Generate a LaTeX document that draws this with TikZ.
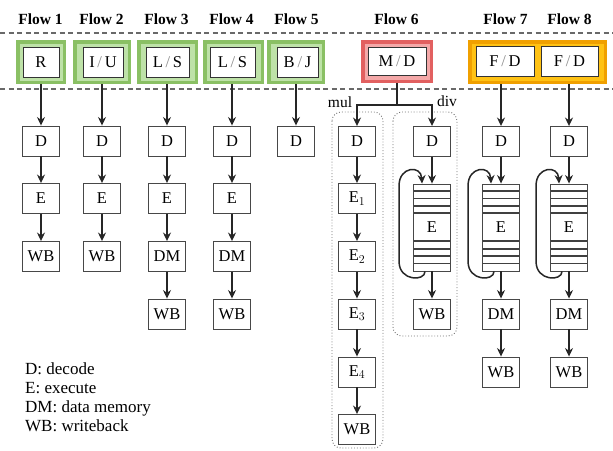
\documentclass[tikz,border=0pt]{standalone}
\usepackage{fontspec}
\setmainfont{Liberation Serif}
\usetikzlibrary{arrows.meta,calc}
\definecolor{gOut}{RGB}{138,192,100}
\definecolor{gIn}{RGB}{190,226,168}
\definecolor{rOut}{RGB}{226,96,96}
\definecolor{rIn}{RGB}{244,168,168}
\definecolor{oOut}{RGB}{240,160,0}
\definecolor{oIn}{RGB}{255,194,20}
\definecolor{dashgray}{RGB}{105,105,105}
\newcommand\gslash{{\color{black!45}/}}
\begin{document}
\begin{tikzpicture}[x=1pt,y=-1pt,
  box/.style={draw=black!72, line width=0.9pt, fill=white, minimum width=37pt, minimum height=30pt, inner sep=0pt, font=\fontsize{16.5}{18}\selectfont},
  hbox/.style={box, draw=black!80, minimum height=30pt},
  glow/.style n args={2}{fill=#1, draw=none, inner sep=0pt,
    path picture={\fill[#2] ($(path picture bounding box.south west)+(3.5pt,3.5pt)$) rectangle ($(path picture bounding box.north east)-(3.5pt,3.5pt)$);}},
  stripebox/.style={box, minimum height=87pt},
  hdr/.style={font=\fontsize{15.5}{18}\selectfont\bfseries},
  lbl/.style={font=\fontsize{15.5}{18}\selectfont},
  arr/.style={-{Stealth[length=8.5pt,width=8pt]}, line width=1.5pt, black!85},
  ln/.style={line width=1.5pt, black!85},
  stripe/.style={line width=1.8pt, black!75},
  dashline/.style={dashgray, line width=1.8pt, dash pattern=on 5pt off 3.5pt},
  region/.style={draw=black!55, dotted, line width=0.9pt, rounded corners=9pt}
]
\useasboundingbox (0,0) rectangle (613,450);

% headers
\node[hdr] (h1) at (40.5,19) {Flow 1};
\node[hdr] (h2) at (101.5,19) {Flow 2};
\node[hdr] (h3) at (166.5,19) {Flow 3};
\node[hdr] (h4) at (231.5,19) {Flow 4};
\node[hdr] (h5) at (296.5,19) {Flow 5};
\node[hdr] (h6) at (396.5,19) {Flow 6};
\node[hdr] (h7) at (505.5,19) {Flow 7};
\node[hdr] (h8) at (569.5,19) {Flow 8};

% dashed separators
\draw[dashline] (0,33) -- (613,33);
\draw[dashline] (0,89) -- (613,89);

% coloured header boxes
\node[glow={gOut}{gIn}, minimum width=50pt, minimum height=44pt] (o1) at (41,62) {};
\node[glow={gOut}{gIn}, minimum width=58pt, minimum height=44pt] (o2) at (102,62) {};
\node[glow={gOut}{gIn}, minimum width=61pt, minimum height=44pt] (o3) at (167.5,62) {};
\node[glow={gOut}{gIn}, minimum width=61pt, minimum height=44pt] (o4) at (233.5,62) {};
\node[glow={gOut}{gIn}, minimum width=58pt, minimum height=44pt] (o5) at (296,62) {};
\node[glow={rOut}{rIn}, minimum width=72pt, minimum height=43pt] (o6) at (397,61.5) {};
\node[glow={oOut}{oIn}, minimum width=139pt, minimum height=44pt] (o78) at (537.5,62) {};

\node[hbox, minimum width=36pt] (t1) at (41,62) {R};
\node[hbox, minimum width=40pt] (t2) at (103,62) {I\,\gslash\,U};
\node[hbox, minimum width=43pt] (t3) at (167.5,62) {L\,\gslash\,S};
\node[hbox, minimum width=45pt] (t4) at (232.5,62) {L\,\gslash\,S};
\node[hbox, minimum width=41pt] (t5) at (297.5,62) {B\,\gslash\,J};
\node[hbox, minimum width=58pt, minimum height=28pt] (t6) at (397,61) {M\,\gslash\,D};
\node[hbox, minimum width=58pt] (t7) at (505,61.5) {F\,\gslash\,D};
\node[hbox, minimum width=57pt] (t8) at (569.5,61.5) {F\,\gslash\,D};

% Flow 1
\node[box] (d1) at (41,141) {D};
\node[box] (e1) at (41,198.5) {E};
\node[box] (w1) at (41,256.5) {WB};
% Flow 2
\node[box] (d2) at (102,141) {D};
\node[box] (e2) at (102,198.5) {E};
\node[box] (w2) at (102,256.5) {WB};
% Flow 3
\node[box] (d3) at (167,141) {D};
\node[box] (e3) at (167,198.5) {E};
\node[box] (m3) at (167,256.5) {DM};
\node[box] (w3) at (167,314) {WB};
% Flow 4
\node[box] (d4) at (232,141) {D};
\node[box] (e4) at (232,198.5) {E};
\node[box] (m4) at (232,256.5) {DM};
\node[box] (w4) at (232,314) {WB};
% Flow 5
\node[box] (d5) at (296,141) {D};

% Flow 6 regions
\draw[region] (332,112) rectangle (383,448);
\draw[region] (393,112) rectangle (457,336);
\node[lbl] (lmul) at (340,102) {mul};
\node[lbl] (ldiv) at (447,101) {div};

% Flow 6 mul
\node[box] (dm) at (357,141.5) {D};
\node[box] (em1) at (357,198.5) {E$_1$};
\node[box] (em2) at (357,256.5) {E$_2$};
\node[box] (em3) at (357,314) {E$_3$};
\node[box] (em4) at (357,372) {E$_4$};
\node[box] (wm) at (357,429.5) {WB};
% Flow 6 div
\node[box] (dd) at (432,141.5) {D};
\node[stripebox] (ed) at (432,227.5) {E};
\node[box] (wd) at (432,314) {WB};
% Flow 7
\node[box] (d7) at (501,141.5) {D};
\node[stripebox] (e7) at (501,227.5) {E};
\node[box] (m7) at (501,314) {DM};
\node[box] (w7) at (501,372) {WB};
% Flow 8
\node[box] (d8) at (569,141.5) {D};
\node[stripebox] (e8) at (569,227.5) {E};
\node[box] (m8) at (569,314) {DM};
\node[box] (w8) at (569,372) {WB};

% stripes and loops
\foreach \n in {ed,e7,e8}{
  \foreach \dy in {7.5,15,22.2,29.5,57.7,65.2,72.6,80}{
    \draw[stripe] ($(\n.north west)+(0.5,\dy)$) -- ($(\n.north east)+(-0.5,\dy)$);
  }
  \draw[arr] ($(\n.south west)+(12,0)$) .. controls ($(\n.south west)+(12,10)$) and ($(\n.south west)+(-14,10)$) .. ($(\n.south west)+(-14,-10)$)
     -- ($(\n.north west)+(-14,2)$) .. controls ($(\n.north west)+(-14,-17)$) and ($(\n.north west)+(8,-19)$) .. ($(\n.north west)+(9,0)$);
}

% arrows from header boxes
\draw[arr] (d1 |- o1.south) -- (d1.north);
\draw[arr] (d2 |- o2.south) -- (d2.north);
\draw[arr] (d3 |- o3.south) -- (d3.north);
\draw[arr] (d4 |- o4.south) -- (d4.north);
\draw[arr] (d5 |- o5.south) -- (d5.north);
\draw[arr] (d7 |- o78.south) -- (d7.north);
\draw[arr] (d8 |- o78.south) -- (d8.north);
\coordinate (split) at (397,105);
\draw[ln] (o6.south) -- (split);
\draw[arr] (split) -| (dm.north);
\draw[arr] (split) -| (dd.north);

% chains
\draw[arr] (d1) -- (e1); \draw[arr] (e1) -- (w1);
\draw[arr] (d2) -- (e2); \draw[arr] (e2) -- (w2);
\draw[arr] (d3) -- (e3); \draw[arr] (e3) -- (m3); \draw[arr] (m3) -- (w3);
\draw[arr] (d4) -- (e4); \draw[arr] (e4) -- (m4); \draw[arr] (m4) -- (w4);
\draw[arr] (dm) -- (em1); \draw[arr] (em1) -- (em2); \draw[arr] (em2) -- (em3); \draw[arr] (em3) -- (em4); \draw[arr] (em4) -- (wm);
\draw[arr] (dd) -- (ed); \draw[arr] (ed) -- (wd);
\draw[arr] (d7) -- (e7); \draw[arr] (e7) -- (m7); \draw[arr] (m7) -- (w7);
\draw[arr] (d8) -- (e8); \draw[arr] (e8) -- (m8); \draw[arr] (m8) -- (w8);

% legend
\node[anchor=north west, align=left, inner sep=0pt, font=\fontsize{17}{19}\selectfont] (legend) at (25,362)
  {D: decode\\E: execute\\DM: data memory\\WB: writeback};
\end{tikzpicture}
\end{document}
